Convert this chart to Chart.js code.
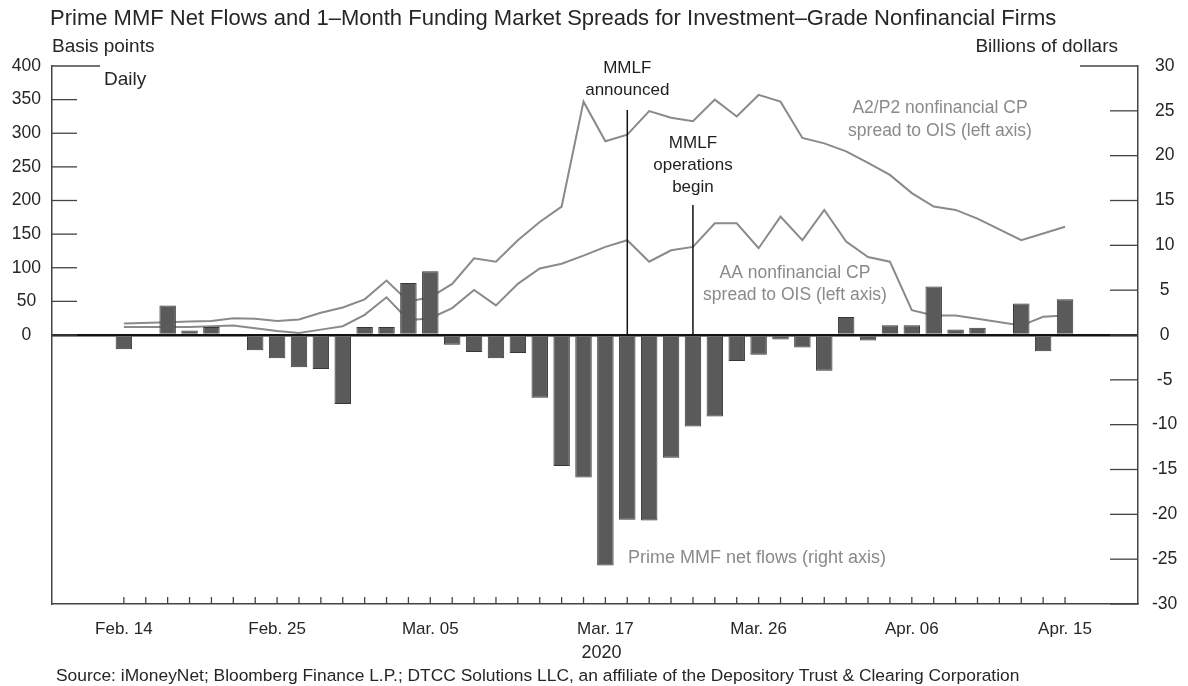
<!DOCTYPE html>
<html>
<head>
<meta charset="utf-8">
<script src="https://cdn.jsdelivr.net/npm/chart.js@4.4.1/dist/chart.umd.min.js"></script>
<style>
  html, body { margin: 0; padding: 0; background: #fff; }
  #wrap { width: 1188px; height: 686px; }
</style>
</head>
<body>
<div id="wrap"><canvas id="mmfChart" width="1188" height="686"></canvas></div>
<script>
// weekdays shown on the axis (Feb. 17 and Apr. 10 have no data)
const days = ['Feb. 14','Feb. 17','Feb. 18','Feb. 19','Feb. 20','Feb. 21','Feb. 24','Feb. 25','Feb. 26','Feb. 27','Feb. 28',
  'Mar. 02','Mar. 03','Mar. 04','Mar. 05','Mar. 06','Mar. 09','Mar. 10','Mar. 11','Mar. 12','Mar. 13',
  'Mar. 16','Mar. 17','Mar. 18','Mar. 19','Mar. 20','Mar. 23','Mar. 24','Mar. 25','Mar. 26','Mar. 27',
  'Mar. 30','Mar. 31','Apr. 01','Apr. 02','Apr. 03','Apr. 06','Apr. 07','Apr. 08','Apr. 09','Apr. 10',
  'Apr. 13','Apr. 14','Apr. 15'];
const shownDays = ['Feb. 14','Feb. 25','Mar. 05','Mar. 17','Mar. 26','Apr. 06','Apr. 15'];

// Prime MMF net flows, billions of dollars (right axis)
const netFlows = [-1.6, null, 3.3, 0.5, 0.9, 0, -1.7, -2.6, -3.6, -3.8, -7.7,
  0.9, 0.9, 5.8, 7.1, -1.1, -1.9, -2.6, -2.0, -7.0, -14.6,
  -15.9, -25.7, -20.6, -20.7, -13.7, -10.2, -9.1, -2.9, -2.2, -0.5,
  -1.4, -4.0, 2.0, -0.6, 1.1, 1.1, 5.4, 0.6, 0.8, null,
  3.5, -1.8, 4.0];

// A2/P2 nonfinancial CP spread to OIS, basis points (left axis)
const a2p2Spread = [17, null, 19, 20, 21, 25, 24, 21, 23, 33, 41,
  53, 81, 50, 56, 76, 114, 109, 141, 168, 191,
  347, 288, 298, 333, 323, 318, 350, 325, 357, 347,
  293, 285, 273, 256, 238, 211, 191, 186, 173, null,
  141, 151, 161];

// AA nonfinancial CP spread to OIS, basis points (left axis)
const aaSpread = [12, null, 12, 12, 13, 14, 10, 6, 3, 8, 13,
  30, 56, 22, 25, 40, 67, 44, 76, 99, 106,
  118, 131, 141, 109, 126, 131, 166, 166, 129, 176,
  141, 186, 139, 116, 109, 37, 29, 29, 24, null,
  14, 27, 29];

const leftTicks = [0, 50, 100, 150, 200, 250, 300, 350, 400];
const rightTicks = [-30, -25, -20, -15, -10, -5, 0, 5, 10, 15, 20, 25, 30];

const events = [
  { day: 'Mar. 18', lines: ['MMLF', 'announced'], textTop: 68, lineTop: 110 },
  { day: 'Mar. 23', lines: ['MMLF', 'operations', 'begin'], textTop: 143, lineTop: 205 }
];

const FONT = '"Liberation Sans", Arial, Helvetica, sans-serif';
const INK = '#262626';
const LINE_GRAY = '#8a8a8a';

function toPoints(values) {
  return values.map((v, i) => ({ x: i, y: v }));
}

function drawLine(ctx, x1, y1, x2, y2) {
  ctx.beginPath();
  ctx.moveTo(x1, y1);
  ctx.lineTo(x2, y2);
  ctx.stroke();
}

function drawText(ctx, text, x, y, size, color, align) {
  ctx.font = size + 'px ' + FONT;
  ctx.fillStyle = color;
  ctx.textAlign = align || 'left';
  ctx.textBaseline = 'middle';
  ctx.fillText(text, x, y);
}

// inward tick marks, event markers and the free-standing texts
const decorations = {
  id: 'decorations',
  afterDatasetsDraw(chart) {
    const { ctx, chartArea, scales } = chart;
    const x = scales.x, yL = scales.yL, yR = scales.yR;
    ctx.save();
    ctx.strokeStyle = '#444';
    ctx.lineWidth = 1.3;
    x.ticks.forEach(t => {
      const px = x.getPixelForValue(t.value);
      drawLine(ctx, px, chartArea.bottom, px, chartArea.bottom - 7);
    });
    yL.ticks.forEach(t => {
      const py = yL.getPixelForValue(t.value);
      const len = t.value === 400 ? 48 : 25;
      drawLine(ctx, chartArea.left, py, chartArea.left + len, py);
    });
    yR.ticks.forEach(t => {
      const py = yR.getPixelForValue(t.value);
      const len = t.value === 30 ? 58 : 28;
      drawLine(ctx, chartArea.right, py, chartArea.right - len, py);
    });

    // MMLF markers
    ctx.strokeStyle = '#111';
    ctx.lineWidth = 1.5;
    const zeroY = yR.getPixelForValue(0);
    events.forEach(ev => {
      const px = x.getPixelForValue(days.indexOf(ev.day));
      drawLine(ctx, px, ev.lineTop, px, zeroY);
      ev.lines.forEach((s, k) => drawText(ctx, s, px, ev.textTop + k * 22, 17, '#1e1e1e', 'center'));
    });
    ctx.restore();
  },
  afterDraw(chart) {
    const { ctx, scales } = chart;
    ctx.save();
    drawText(ctx, 'Prime MMF Net Flows and 1\u2013Month Funding Market Spreads for Investment\u2013Grade Nonfinancial Firms', 50, 19, 22, INK);
    drawText(ctx, 'Basis points', 52, 47, 19, INK);
    drawText(ctx, 'Billions of dollars', 1118, 47, 19, INK, 'right');
    drawText(ctx, 'Daily', 104, 80, 19, INK);

    drawText(ctx, 'A2/P2 nonfinancial CP', 940, 108, 17.5, LINE_GRAY, 'center');
    drawText(ctx, 'spread to OIS (left axis)', 940, 131, 17.5, LINE_GRAY, 'center');
    drawText(ctx, 'AA nonfinancial CP', 795, 273, 17.5, LINE_GRAY, 'center');
    drawText(ctx, 'spread to OIS (left axis)', 795, 295, 17.5, LINE_GRAY, 'center');
    drawText(ctx, 'Prime MMF net flows (right axis)', 628, 558, 18, LINE_GRAY);

    drawText(ctx, '2020', scales.x.getPixelForValue(days.indexOf('Mar. 17')) - 4, 653, 18, INK, 'center');
    drawText(ctx, 'Source: iMoneyNet; Bloomberg Finance L.P.; DTCC Solutions LLC, an affiliate of the Depository Trust & Clearing Corporation', 56, 676, 17.4, INK);
    ctx.restore();
  }
};

const ctx = document.getElementById('mmfChart').getContext('2d');

new Chart(ctx, {
  type: 'bar',
  data: {
    datasets: [
      {
        type: 'bar',
        label: 'Prime MMF net flows (right axis)',
        data: toPoints(netFlows),
        yAxisID: 'yR',
        backgroundColor: '#5a5a5a',
        borderColor: '#363636',
        borderWidth: 1,
        barPercentage: 0.94,
        categoryPercentage: 0.8,
        order: 0
      },
      {
        type: 'line',
        label: 'A2/P2 nonfinancial CP spread to OIS (left axis)',
        data: toPoints(a2p2Spread),
        yAxisID: 'yL',
        borderColor: LINE_GRAY,
        borderWidth: 2,
        pointRadius: 0,
        tension: 0,
        spanGaps: true,
        order: 1
      },
      {
        type: 'line',
        label: 'AA nonfinancial CP spread to OIS (left axis)',
        data: toPoints(aaSpread),
        yAxisID: 'yL',
        borderColor: LINE_GRAY,
        borderWidth: 2,
        pointRadius: 0,
        tension: 0,
        spanGaps: true,
        order: 2
      }
    ]
  },
  options: {
    responsive: false,
    animation: false,
    devicePixelRatio: 1,
    layout: { padding: { top: 66, left: 0, right: 0, bottom: 0 } },
    plugins: {
      legend: { display: false },
      tooltip: { enabled: false }
    },
    scales: {
      x: {
        type: 'linear',
        min: -2.72,
        max: 45.77,
        afterBuildTicks: scale => { scale.ticks = days.map((d, i) => ({ value: i })); },
        afterFit: scale => { scale.height = 82; },
        grid: { display: false, drawTicks: false },
        border: { display: true, color: '#444', width: 1.5 },
        ticks: {
          autoSkip: false,
          maxRotation: 0,
          minRotation: 0,
          padding: 15,
          color: INK,
          font: { size: 17, family: FONT },
          callback: v => shownDays.includes(days[v]) ? days[v] : ''
        }
      },
      yL: {
        type: 'linear',
        position: 'left',
        min: -400,
        max: 400,
        afterBuildTicks: scale => { scale.ticks = leftTicks.map(v => ({ value: v })); },
        afterFit: scale => { scale.width = 52; },
        grid: { display: false, drawTicks: false },
        border: { display: true, color: '#444', width: 1.5 },
        ticks: { crossAlign: 'center', padding: 11, color: INK, font: { size: 17.5, family: FONT } }
      },
      yR: {
        type: 'linear',
        position: 'right',
        min: -30,
        max: 30,
        afterBuildTicks: scale => { scale.ticks = rightTicks.map(v => ({ value: v })); },
        afterFit: scale => { scale.width = 50; },
        grid: {
          drawTicks: false,
          color: c => c.tick && c.tick.value === 0 ? '#111' : 'rgba(0,0,0,0)',
          lineWidth: c => c.tick && c.tick.value === 0 ? 2.5 : 0
        },
        border: { display: true, color: '#444', width: 1.5 },
        ticks: { crossAlign: 'center', padding: 14, color: INK, font: { size: 17.5, family: FONT } }
      }
    }
  },
  plugins: [decorations]
});
</script>
</body>
</html>
